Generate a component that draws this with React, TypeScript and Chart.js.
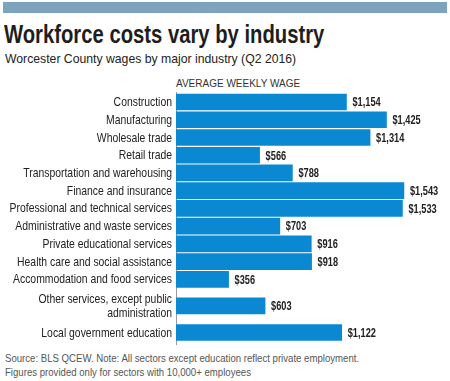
import React, { useEffect, useRef } from "react";
import { Chart, registerables } from "chart.js";

Chart.register(...registerables);

const categories: (string | string[])[] = [
  "Construction",
  "Manufacturing",
  "Wholesale trade",
  "Retail trade",
  "Transportation and warehousing",
  "Finance and insurance",
  "Professional and technical services",
  "Administrative and waste services",
  "Private educational services",
  "Health care and social assistance",
  "Accommodation and food services",
  ["Other services, except public", "administration"],
  "Local government education",
];

const wages = [1154, 1425, 1314, 566, 788, 1543, 1533, 703, 916, 918, 356, 603, 1122];

const title = "Workforce costs vary by industry";
const subtitle = "Worcester County wages by major industry (Q2 2016)";
const axisTitle = "AVERAGE WEEKLY WAGE";
const notes = [
  "Source: BLS QCEW. Note: All sectors except education reflect private employment.",
  "Figures provided only for sectors with 10,000+ employees",
];

const SANS = '"Liberation Sans", Arial, Helvetica, sans-serif';
const BAR = "#0a88d2";

// Row slots: a row step is 2 half-rows, or 3 next to a two-line label.
const rowSlots: number[] = [];
categories.forEach((c, i) => {
  if (i === 0) {
    rowSlots.push(0);
    return;
  }
  const tall = Array.isArray(c) || Array.isArray(categories[i - 1]);
  rowSlots.push(rowSlots[i - 1] + (tall ? 3 : 2));
});

const LABEL_SX = 0.8;
const VALUE_SX = 0.77;

const condensedText = {
  id: "condensedText",
  afterDraw(chart: any) {
    const ctx = chart.ctx;
    const yScale = chart.scales.y;
    const meta = chart.getDatasetMeta(0);
    ctx.save();
    ctx.font = `13px ${SANS}`;
    ctx.fillStyle = "#222";
    ctx.textAlign = "right";
    ctx.textBaseline = "middle";
    const xRight = yScale.right - 4;
    categories.forEach((lab, i) => {
      const y = yScale.getPixelForValue(rowSlots[i]);
      const lines = Array.isArray(lab) ? lab : [lab];
      const lh = 14;
      const y0 = y - ((lines.length - 1) * lh) / 2;
      lines.forEach((line, j) => {
        ctx.save();
        ctx.scale(LABEL_SX, 1);
        ctx.fillText(line, xRight / LABEL_SX, y0 + j * lh + 0.5);
        ctx.restore();
      });
    });
    ctx.font = `bold 12px ${SANS}`;
    ctx.textAlign = "left";
    meta.data.forEach((bar: any, i: number) => {
      const v = wages[i];
      ctx.save();
      ctx.scale(VALUE_SX, 1);
      ctx.fillText("$" + v.toLocaleString("en-US"), (bar.x + 6) / VALUE_SX, bar.y + 1);
      ctx.restore();
    });
    ctx.restore();
  },
};

function WageChart() {
  const ref = useRef<HTMLCanvasElement>(null);
  useEffect(() => {
    if (!ref.current) return;
    const chart = new Chart(ref.current, {
      type: "bar",
      data: {
        datasets: [
          {
            data: wages.map((v, i) => ({ x: v, y: rowSlots[i] })),
            backgroundColor: BAR,
            borderWidth: 0,
            barThickness: 16,
          },
        ],
      },
      options: {
        indexAxis: "y",
        animation: false,
        responsive: false,
        maintainAspectRatio: false,
        layout: { padding: 0 },
        plugins: {
          legend: { display: false },
          tooltip: { enabled: false },
          title: { display: false },
        },
        scales: {
          x: {
            type: "linear",
            display: false,
            min: 0,
            max: 1855,
          },
          y: {
            type: "linear",
            reverse: true,
            offset: false,
            grace: 0,
            min: -1.13,
            max: 27.41,
            afterFit(scale: any) {
              scale.width = 176;
            },
            grid: { display: false, drawTicks: false },
            border: { display: true, color: "#9a9a9a", width: 1 },
            ticks: { display: false },
          },
        },
      },
      plugins: [condensedText],
    });
    return () => chart.destroy();
  }, []);
  return (
    <canvas
      ref={ref}
      width={450}
      height={253}
      style={{ position: "absolute", left: 0, top: 92, width: 450, height: 253 }}
    />
  );
}

export default function App() {
  return (
    <div
      style={{
        position: "absolute",
        left: 0,
        top: 0,
        width: 450,
        height: 381,
        background: "#fff",
        overflow: "hidden",
      }}
    >
      <div style={{ position: "absolute", left: 3, top: 2, width: 444, height: 11, background: "#7ea3bc" }} />
      <div
        style={{
          position: "absolute",
          left: 4,
          top: 21.5,
          fontFamily: SANS,
          fontWeight: "bold",
          fontSize: 25,
          lineHeight: "25px",
          color: "#1e1e1e",
          whiteSpace: "nowrap",
          transform: "scaleX(0.81)",
          transformOrigin: "0 0",
        }}
      >
        {title}
      </div>
      <div
        style={{
          position: "absolute",
          left: 5,
          top: 52,
          fontFamily: SANS,
          fontSize: 13,
          lineHeight: "13px",
          color: "#222",
          whiteSpace: "nowrap",
          transform: "scaleX(0.94)",
          transformOrigin: "0 0",
        }}
      >
        {subtitle}
      </div>
      <div
        style={{
          position: "absolute",
          left: 176,
          top: 78.7,
          fontFamily: SANS,
          fontSize: 10,
          lineHeight: "10px",
          color: "#333",
          whiteSpace: "nowrap",
        }}
      >
        {axisTitle}
      </div>
      <WageChart />
      <div
        style={{
          position: "absolute",
          left: 5,
          top: 351.3,
          fontFamily: SANS,
          fontSize: 10.8,
          lineHeight: "14px",
          color: "#555",
          whiteSpace: "nowrap",
          transform: "scaleX(0.89)",
          transformOrigin: "0 0",
        }}
      >
        {notes.map((n, i) => (
          <div key={i}>{n}</div>
        ))}
      </div>
    </div>
  );
}
